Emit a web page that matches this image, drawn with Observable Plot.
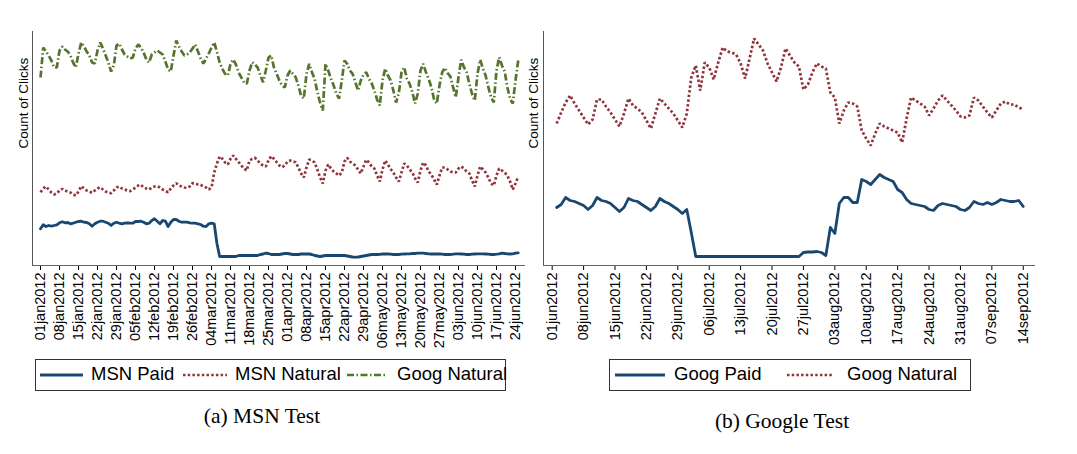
<!DOCTYPE html>
<html><head><meta charset="utf-8">
<script src="https://cdn.jsdelivr.net/npm/d3@7"></script>
<script src="https://cdn.jsdelivr.net/npm/@observablehq/plot@0.6"></script>
<style>
body{margin:0;background:#fff;}
#wrap{position:relative;width:1077px;height:454px;overflow:hidden;font-family:"Liberation Sans",Arial,Helvetica,sans-serif;background:#fff;}
.panel{position:absolute;top:0;}
.legend{position:absolute;border:1px solid #333;box-sizing:border-box;height:32px;top:359px;}
.legend .sw{position:absolute;top:11.5px;}
.legend .lab{position:absolute;top:5.3px;font-size:18.5px;line-height:1;color:#000;white-space:nowrap;}
.caption{position:absolute;font-family:"Liberation Serif","Times New Roman",serif;font-size:21.5px;line-height:1;white-space:nowrap;transform:translateX(-50%);color:#000;}
</style></head>
<body>
<div id="wrap">
  <div id="left" class="panel" style="left:0px"></div>
  <div id="right" class="panel" style="left:520px"></div>
  <div id="legL" class="legend" style="left:35px;width:471px"></div>
  <div id="legR" class="legend" style="left:609px;width:362px"></div>
  <div class="caption" style="left:262px;top:406px">(a) MSN Test</div>
  <div class="caption" style="left:782px;top:411px">(b) Google Test</div>
</div>
<script>
// ---------- data: MSN test (daily from 2012-01-01) ----------
const msnStart = "2012-01-01";
const msnPaid = [
  36.7,40.7,39,40,39.3,40,40.7,
  42.7,43.7,42.7,43,41.7,42.3,43.3,
  44,44.3,43.3,43,41.7,39.3,41.7,
  43.3,44.3,44.3,43.3,42.3,40,42.3,
  43.3,42.3,41.7,42.3,42.7,42.3,42.3,
  44,44,44.3,43.3,41.7,42.3,45,
  46.7,44.3,41.7,45,44.3,39,43.3,
  46,46,44.3,43.3,43.3,43.3,42.7,
  42.3,42.3,41.7,41,39.3,39,41.7,
  42.3,41.7,22,9,9,9,9,
  9,9,9,10,10,10,10,
  10,10,10,10,11,11.5,12.3,
  12,11,11,11,11,11.5,12,
  12,11.5,11,11,11,11.5,11.5,
  11.7,11.5,11,10,9.5,9,9.5,
  10,10,10,10,10,10,10,
  10,9.5,9,8.5,8.3,8.5,9,
  9.5,10,10.5,11,11,11,11.2,
  11.5,11.7,11.5,11.3,11,11,11,
  11.3,11.5,11.7,11.7,12,12,12.3,
  12.3,12.3,12,11.7,11.5,11.5,11.7,
  11.5,11.3,11,11,11,11.3,11.7,
  11.7,11.5,11.3,11,11,11.3,11.5,
  11.7,11.7,11.7,11.5,11.3,11,11,
  11.3,11.7,12.3,12,11.7,11.5,11.7,
  12.3,12.7
];
const msnNatural = [
  73.3,77,79,76,73,71,72,
  75,76.7,75,74,73,71,70,
  74,79.3,77,75,74,72.7,75,
  77,78.3,76,74,73,72.3,75,
  78,79,77,76,75,74.3,76,
  78,80,80.7,78,77,76,78,
  79,79.3,78,76,74.5,73.3,77,
  80,82.3,80,79,78,77.7,79,
  82.3,82,81,80.7,79,78,76,
  78,93,102,109,106.7,103,101,
  106.7,110,106.7,103.3,100,96.7,95,
  105,106.7,107.7,105,101.7,100,99,
  105,109.3,106.7,103.3,100,98.3,100,
  104,105,104,103.3,98,92,88,
  98,106,105,103,96,88,82,
  95,101,97,94,92,90,93,
  104,107.7,104,102,100,96,92,
  99,105.7,103,99,97,90,84,
  96,105,101,96.5,93,88,84,
  93,102,100,96,93,87,83,
  95,103,100,94,91,86,81,
  90,98,98,96,94,93,93,
  97,99,97,94,92,85,79,
  90,99,96,93,88,82,80,
  90,97,95,93,90,84,76,
  82,89
];
const msnGoogNatural = [
  188,218,214,210,205,198,198,
  215,219,216,214,210,203,198,
  212,223,219,214,210,203,202,
  215,223,217,210,203,194,200,
  220,222,216,211,209,207,208,
  217,221,218,213,206,203,211,
  213,215,213,211,204,196,194,
  210,225,219,214,210,211,213,
  217,221,214,207,202,207,212,
  218,223,213.7,203,196.7,191.7,190,
  201.7,206,201,193,188,183,181.7,
  195,203.3,201,198,190,183.3,195,
  208,210,198,191.7,185,180,178,
  190,195,191.7,188.3,180,170,167,
  191.7,201.7,193.3,186.7,173.3,163,155,
  201.7,195,186.7,180,171.7,167,185,
  205,201.7,195,191.7,183.3,175,185,
  191,193.3,186.7,182.3,175,166,160,
  185,196.7,190,185,175,163,172,
  193,198.3,186.7,181.7,173.3,162,172,
  195,201.7,193.3,186.7,178.3,166,162,
  180,193.3,197.7,192.3,189,178.3,168.3,
  188.3,205.7,198.3,193.3,181.7,171.7,165,
  191.7,205.7,196.7,190,178.3,168.3,163,
  195,208.3,200,194.3,178.3,166.7,162,
  185,205
];
// ---------- data: Google test (daily from 2012-06-02) ----------
const googStart = "2012-06-02";
const googPaid = [
  58,61,68,65,64,62,60,
  56,60,68,65,64,62,58,
  54,58,67,65,64,61,58,
  55,59,67,64,62,59,56,
  52,56,33,9,9,9,9,
  9,9,9,9,9,9,9,
  9,9,9,9,9,9,9,
  9,9,9,9,9,9,13,
  13.5,13.5,14,13,10,38,32,
  62,68,68,63,63,86,84,
  81,86,91,88,86,84,76,
  73,66,62,61,60,59,56,
  55,60,62,61,60,59,56,
  55,58,64,62,61,63,61,
  63,66,65,64,64,65,59
];
const googNatural = [
  142,153,163,170,162,155,148,
  141,146,166,166,159,153,146,
  139,152,167,160,157,153,145,
  137,152,167,162,157,152,145,
  138,152,188,200,175,203,198,
  186,203,218,214,213,211,202,
  187,207,227,221,215,202,193,
  184,198,217,210,203,199,176,
  181,193,202,199,197,173,168,
  142,155,163,162,159,135,127,
  120,132,142,139,137,135,133,
  123,147,168,165,162,159,150,
  157,165,170,165,160,155,149,
  148,150,168,165,159,153,148,
  155,162,164,161,161,158,156
];
// ---------- axes ----------
const msnTicks = ["2012-01-01","2012-01-08","2012-01-15","2012-01-22","2012-01-29","2012-02-05","2012-02-12","2012-02-19","2012-02-26","2012-03-04","2012-03-11","2012-03-18","2012-03-25","2012-04-01","2012-04-08","2012-04-15","2012-04-22","2012-04-29","2012-05-06","2012-05-13","2012-05-20","2012-05-27","2012-06-03","2012-06-10","2012-06-17","2012-06-24"];
const googTicks = ["2012-06-01","2012-06-08","2012-06-15","2012-06-22","2012-06-29","2012-07-06","2012-07-13","2012-07-20","2012-07-27","2012-08-03","2012-08-10","2012-08-17","2012-08-24","2012-08-31","2012-09-07","2012-09-14"];
const msnDomain = ["2011-12-29T01:00:00Z","2012-06-27T16:30:00Z"];
const googDomain = ["2012-05-30T01:30:00Z","2012-09-16T17:30:00Z"];
const yDomain = [0, 234];
const yLabel = "Count of Clicks";

const NAVY = "#1a476f", MAROON = "#90353b", GREEN = "#55752f";
const STY = {
  paid: {stroke: NAVY, strokeWidth: 2.8, strokeLinecap: "round", strokeLinejoin: "round"},
  natural: {stroke: MAROON, strokeWidth: 2.7, strokeDasharray: "2.5,2.2", strokeLinecap: "butt", strokeLinejoin: "miter"},
  goog: {stroke: GREEN, strokeWidth: 2.7, strokeDasharray: "7,2.5,1.5,2.5", strokeLinecap: "butt", strokeLinejoin: "miter"}
};

const fmt = d3.utcFormat("%d%b%Y");
const tickFmt = d => fmt(d).toLowerCase();
const toDate = s => new Date(s.length === 10 ? s + "T00:00:00Z" : s);
const rows = (start, vals) => vals.map((v, i) => ({date: d3.utcDay.offset(toDate(start), i), value: v}));

function panel(opts) {
  const dom = opts.domain.map(toDate);
  return Plot.plot({
    width: opts.width, height: 355,
    marginLeft: opts.ml, marginRight: opts.mr, marginTop: 31, marginBottom: 90,
    style: {fontFamily: "'Liberation Sans', Arial, Helvetica, sans-serif", fontSize: "14.5px", color: "#000", background: "transparent", overflow: "visible"},
    x: {type: "utc", domain: dom, ticks: opts.ticks.map(toDate), tickFormat: tickFmt, tickRotate: -90, tickSize: 5, tickPadding: 2, label: null},
    y: {domain: yDomain, axis: null},
    marks: [
      Plot.ruleY([yDomain[0]], {stroke: "#666", strokeWidth: 1}),
      Plot.ruleX([dom[0]], {stroke: "#555", strokeWidth: 1}),
      Plot.text([yLabel], {text: d => d, frameAnchor: "left", dx: opts.labelDx, rotate: -90, fontSize: 13.5, fill: "#000"}),
      ...opts.series.map(s => Plot.line(rows(opts.start, s.values), {x: "date", y: "value", ...s.style}))
    ]
  });
}

document.getElementById("left").append(panel({
  width: 530, ml: 32, mr: 5, labelDx: -9, domain: msnDomain, ticks: msnTicks, start: msnStart,
  series: [{values: msnGoogNatural, style: STY.goog}, {values: msnNatural, style: STY.natural}, {values: msnPaid, style: STY.paid}]
}));
document.getElementById("right").append(panel({
  width: 530, ml: 23, mr: 15, labelDx: -10, domain: googDomain, ticks: googTicks, start: googStart,
  series: [{values: googNatural, style: STY.natural}, {values: googPaid, style: STY.paid}]
}));

// ---------- legends ----------
const NS = "http://www.w3.org/2000/svg";
function legend(id, items) {
  const box = document.getElementById(id);
  for (const it of items) {
    const svg = document.createElementNS(NS, "svg");
    svg.setAttribute("class", "sw");
    svg.setAttribute("width", it.w); svg.setAttribute("height", 6);
    svg.style.left = it.sx + "px";
    const ln = document.createElementNS(NS, "line");
    ln.setAttribute("x1", 0); ln.setAttribute("x2", it.w); ln.setAttribute("y1", 3); ln.setAttribute("y2", 3);
    ln.setAttribute("stroke", it.style.stroke);
    ln.setAttribute("stroke-width", it.style.strokeWidth);
    if (it.style.strokeDasharray) ln.setAttribute("stroke-dasharray", it.style.strokeDasharray);
    svg.append(ln);
    box.append(svg);
    const lab = document.createElement("div");
    lab.className = "lab"; lab.textContent = it.label; lab.style.left = it.tx + "px";
    box.append(lab);
  }
}
legend("legL", [
  {label: "MSN Paid", style: STY.paid, sx: 4, w: 43, tx: 55},
  {label: "MSN Natural", style: STY.natural, sx: 147, w: 44, tx: 199},
  {label: "Goog Natural", style: STY.goog, sx: 311, w: 40, tx: 361}
]);
legend("legR", [
  {label: "Goog Paid", style: STY.paid, sx: 5, w: 50, tx: 64},
  {label: "Goog Natural", style: STY.natural, sx: 177, w: 46, tx: 237}
]);
</script>
</body></html>
